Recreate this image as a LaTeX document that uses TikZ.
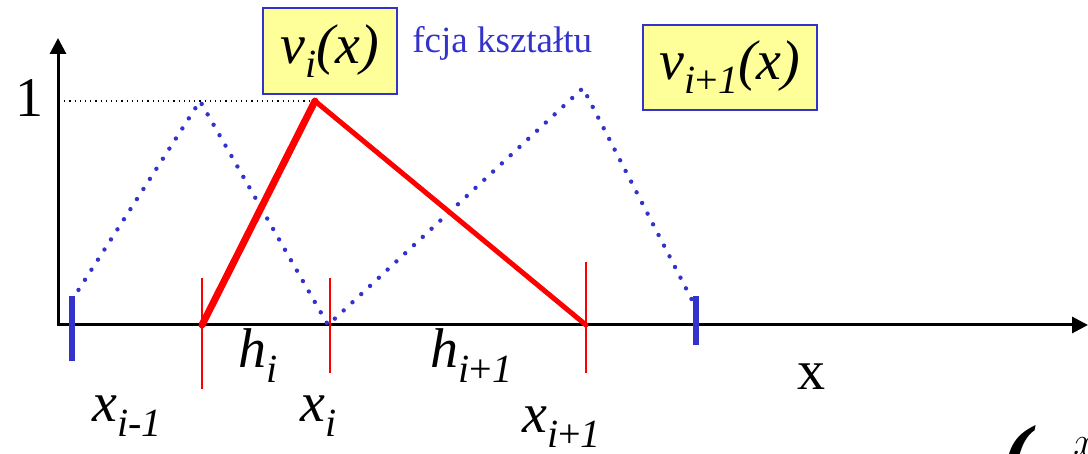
\documentclass[tikz,border=0pt]{standalone}
\usepackage{fontspec}
\setmainfont{Liberation Serif}[ItalicFont={Liberation Serif Italic}, BoldItalicFont={Liberation Serif Bold Italic}]
\usetikzlibrary{arrows.meta}
\definecolor{fblue}{HTML}{3333CC}
\definecolor{fred}{HTML}{FF0000}
\definecolor{fyellow}{HTML}{FFFF99}
\newcommand{\lowidx}[1]{\raisebox{-0.55ex}{\fontsize{20}{20}\selectfont #1}}

\begin{document}
\begin{tikzpicture}[x=0.5pt,y=-0.5pt,
				axis/.style={line width=1.5pt, -{Triangle[width=8pt,length=8pt]}},
				shapefn/.style={fblue, line width=2.2pt, line cap=round, dash pattern=on 0pt off 6pt},
				elem/.style={fred, line cap=round, line join=round},
				knot/.style={fred, line width=1pt},
				edge/.style={fblue, line width=3pt},
				fnbox/.style={draw=fblue, fill=fyellow, line width=1pt, inner sep=0pt,
					font=\fontsize{28}{30}\selectfont\itshape},
				lbl/.style={inner sep=0pt, anchor=base west, font=\fontsize{28}{30}\selectfont\itshape}
				]
				\useasboundingbox (0,0) rectangle (1088,454);
				% axes
				\coordinate (o) at (57,325);
				\coordinate (ytop) at (58,38);
				\coordinate (xend) at (1088,325);
				\draw[axis] (o) to (xend);
				\draw[axis] (o -| ytop) to (ytop);
				% points of the mesh
				\coordinate (a0) at (72,300);
				\coordinate (p0) at (200,101);
				\coordinate (b1) at (202,325);
				\coordinate (p1) at (315,101);
				\coordinate (b2) at (328,325);
				\coordinate (p2) at (583,88);
				\coordinate (b3) at (586,325);
				\coordinate (a3) at (693,302);
				\draw[dotted, line width=0.6pt] (59,101) to (p1);
				\draw[shapefn] (a0) to (p0) to (b2) to (p2) to (a3);
				\draw[elem, line width=3.5pt] (b1) to (p1);
				\draw[elem, line width=2.5pt] (p1) to (b3);
				\draw[knot] (202,278) to (202,389);
				\draw[knot] (330,278) to (330,373);
				\draw[knot] (586,262) to (586,373);
				\draw[edge] (72,296) to (72,361);
				\draw[edge] (696,296) to (696,345);
				% labels
				\node[inner sep=0pt, anchor=base west, font=\fontsize{28}{30}\selectfont] (one) at (15,117) {1};
				\node[lbl] (xim) at (92,422) {x\lowidx{i-1}};
				\node[lbl] (hi) at (238,368) {h\lowidx{i}};
				\node[lbl] (xi) at (300,422) {x\lowidx{i}};
				\node[lbl] (hip) at (430,368) {h\lowidx{i\textup{+}1}};
				\node[lbl] (xip) at (522,433) {x\lowidx{i\textup{+}1}};
				\node[lbl, font=\fontsize{28}{30}\selectfont] (xaxis) at (797,390) {x};
				\node[fnbox, minimum width=67pt, minimum height=43pt] (vi) at (330,51) {v\lowidx{i}(x)};
				\node[inner sep=0pt, anchor=base west, text=fblue, font=\fontsize{18.5}{20}\selectfont] (fcja) at (412,53) {fcja kształtu};
				\node[fnbox, minimum width=87pt, minimum height=42.5pt] (vip) at (730,67.5) {v\lowidx{i\textup{+}1}(x)};
				% cut-off formula
				\node[inner sep=0pt, anchor=north west, font=\fontsize{44}{44}\selectfont\bfseries\itshape] (paren) at (1001,425) {(};
				\node[inner sep=0pt, anchor=north west, font=\fontsize{20}{20}\selectfont] (xcut) at (1073,437) {$x$};
\end{tikzpicture}
\end{document}
